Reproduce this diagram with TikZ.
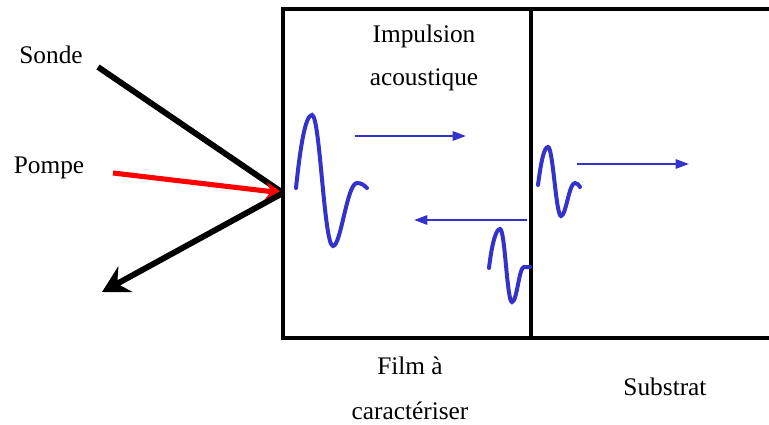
\documentclass[tikz,border=0pt]{standalone}
\usepackage{fontspec}
\setmainfont{Liberation Serif}
\usetikzlibrary{arrows.meta}
\definecolor{pulseblue}{RGB}{51,51,204}
\definecolor{pumpred}{RGB}{255,0,0}

\begin{document}
\begin{tikzpicture}[x=0.75pt, y=-0.75pt,
    lbl/.style={font=\fontsize{19}{32}\selectfont, inner sep=1pt, align=center},
    wall/.style={line width=2.6pt},
    beam/.style={line width=4.4pt},
    pump/.style={line width=3.8pt, draw=pumpred, -{Stealth[length=13pt, width=13pt, inset=4pt]}},
    pulse/.style={line width=3pt, draw=pulseblue, line cap=round},
    prop/.style={line width=1.5pt, draw=pulseblue, -{Triangle[length=10pt, width=7pt]}}
]
    \useasboundingbox (0,0) rectangle (769,425);

    % film and substrate
    \draw[wall] (283,9) rectangle (531,338);
    \draw[wall] (531,9) -- (769,9);
    \draw[wall] (531,338) -- (769,338);

    % labels
    \node[lbl] (sonde) at (51,55) {Sonde};
    \node[lbl] (pompe) at (49,168) {Pompe};
    \node[lbl] (impulsion) at (424,58) {Impulsion\\acoustique};
    \node[lbl, font=\fontsize{19}{34}\selectfont] (film) at (410,388) {Film à\\caractériser};
    \node[lbl] (substrat) at (665,387) {Substrat};

    % beams
    \coordinate (impact) at (283,193);
    \coordinate (sondein) at (98,67);
    \coordinate (pompein) at (113,173);
    \coordinate (sondeout) at (102,292);
    \draw[beam] (sondein) -- (impact);
    \draw[pump] (pompein) -- (impact);
    \draw[beam, -{Stealth[length=20pt, width=22pt, inset=7pt]}] (impact) -- (sondeout);

    % acoustic pulses
    \draw[pulse] (296,188) .. controls (300,150) and (305,115) .. (312,115)
        .. controls (320,115) and (324,246) .. (333,246)
        .. controls (341,246) and (347,183) .. (357,183)
        .. controls (361,183) and (364,185) .. (367,188);
    \draw[pulse] (538,185) .. controls (541,162) and (544,147) .. (548,147)
        .. controls (553,147) and (556,216) .. (561,216)
        .. controls (566,216) and (569,183) .. (575,183)
        .. controls (577,183) and (579,185) .. (580,187);
    \draw[pulse] (489,268) .. controls (492,243) and (496,229) .. (500,229)
        .. controls (505,229) and (507,302) .. (512,302)
        .. controls (517,302) and (519,267) .. (524,267)
        .. controls (526,267) and (528,267) .. (530,267);

    % propagation
    \coordinate (gotail) at (355,136);
    \coordinate (gohead) at (466,136);
    \coordinate (backtail) at (527,220);
    \coordinate (backhead) at (414,220);
    \coordinate (outtail) at (577,164);
    \coordinate (outhead) at (689,164);
    \draw[prop] (gotail) -- (gohead);
    \draw[prop] (backtail) -- (backhead);
    \draw[prop] (outtail) -- (outhead);
\end{tikzpicture}
\end{document}
